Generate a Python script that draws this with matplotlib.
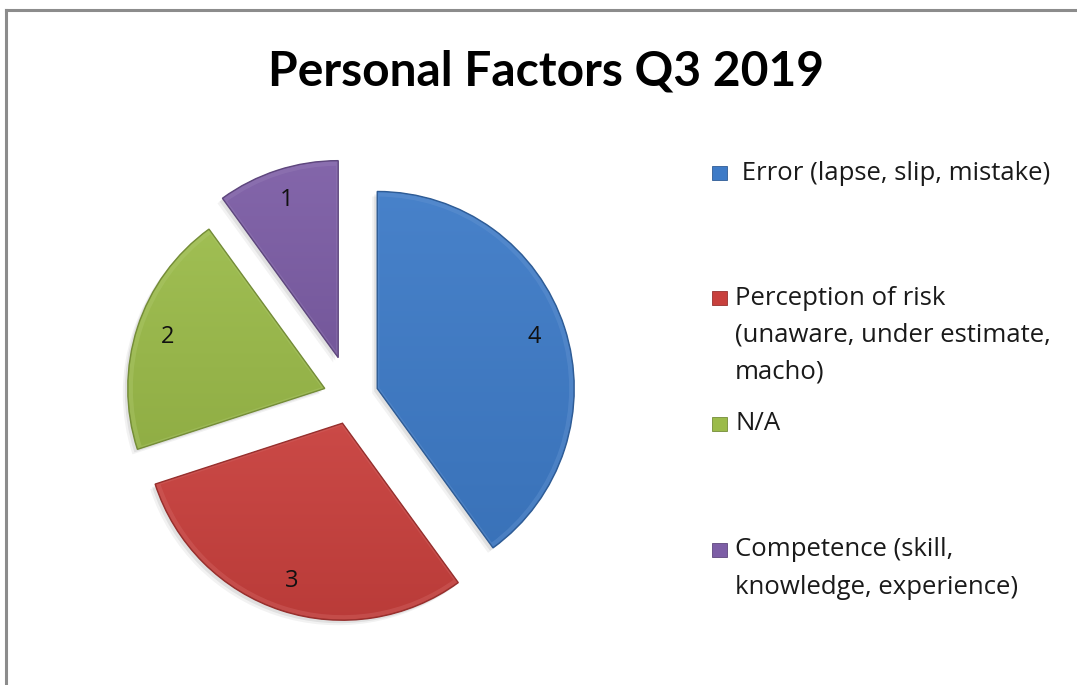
import matplotlib.pyplot as plt
import numpy as np
from matplotlib.colors import to_rgb
from matplotlib.lines import Line2D
from matplotlib.patches import Rectangle, Wedge

title = "Personal Factors Q3 2019"
categories = [
    " Error (lapse, slip, mistake)",
    "Perception of risk\n(unaware, under estimate,\nmacho)",
    "N/A",
    "Competence (skill,\nknowledge, experience)",
]
counts = [4, 3, 2, 1]
colors = ["#3E7BC7", "#C8403D", "#9BBB4A", "#7D5EA6"]
explode = [0.14, 0.14, 0.14, 0.21]

plt.rcParams["font.family"] = ["Open Sans", "DejaVu Sans"]

W, H = 1077, 685
R = 197.0  # pie radius in pixels
cx, cy = 351, 397  # pie centre, pixels from top-left

fig = plt.figure(figsize=(W / 100, H / 100), dpi=100, facecolor="white")
ax = fig.add_axes([0, 0, 1, 1])

# axes in units of the pie radius, origin at pie centre
x0, x1 = -cx / R, (W - cx) / R
y0, y1 = -(H - cy) / R, cy / R


def shade(c, f):
    r = np.array(to_rgb(c))
    if f > 0:
        return r + (1 - r) * f
    return r * (1 + f)


wedges, texts, autotexts = ax.pie(
    counts,
    colors=colors,
    explode=explode,
    startangle=90,
    counterclock=False,
    radius=1,
    autopct=lambda p: "%d" % round(p * sum(counts) / 100),
    pctdistance=0.84,
    textprops={"fontsize": 17, "color": "#111111"},
    wedgeprops={"linewidth": 0},
)

for w, c in zip(wedges, colors):
    # soft shadow
    for k, a in [(5, 0.05), (3, 0.07)]:
        sh = Wedge(
            (w.center[0] - k / R, w.center[1] - k / R),
            w.r, w.theta1, w.theta2,
            facecolor="black", alpha=a, linewidth=0, zorder=0.5,
        )
        ax.add_patch(sh)
    # gentle vertical gradient inside the wedge
    ext = w.get_path().get_extents()
    n = 64
    top, bot = shade(c, 0.05), shade(c, -0.07)
    grad = np.linspace(0, 1, n)[:, None, None] * (bot - top) + top
    im = ax.imshow(
        grad,
        extent=(ext.x0, ext.x1, ext.y0, ext.y1),
        origin="upper",
        aspect="auto",
        zorder=1.1,
        interpolation="bilinear",
    )
    im.set_clip_path(w)
    # bevel rim
    rim2 = Wedge(
        w.center, w.r - 3 / R, w.theta1, w.theta2,
        facecolor="none", edgecolor=shade(c, 0.2), linewidth=3, alpha=0.4, zorder=1.2,
    )
    rim2.set_clip_path(w)
    ax.add_patch(rim2)
    rim = Wedge(
        w.center, w.r, w.theta1, w.theta2,
        facecolor="none", edgecolor=shade(c, -0.25), linewidth=1.0, zorder=1.3,
    )
    ax.add_patch(rim)

for t in autotexts:
    t.set_zorder(3)

ax.set_xlim(x0, x1)
ax.set_ylim(y0, y1)
ax.set_aspect("equal")
ax.set_axis_off()

# title
fig.text(546 / W, 1 - 85 / H, title, ha="center", va="baseline",
         fontsize=34.5, fontweight="bold", color="black", family=["Lato", "DejaVu Sans"])

# legend drawn by hand to follow the uneven spacing of the original
entry_y = [173, 298, 424, 550]
line_step = 37
for lab, c, yy in zip(categories, colors, entry_y):
    fig.patches.append(Rectangle((712 / W, 1 - (yy + 7) / H), 15 / W, 14 / H,
                                 transform=fig.transFigure, facecolor=c,
                                 edgecolor=shade(c, -0.25), linewidth=0.6))
    for i, line in enumerate(lab.split("\n")):
        fig.text(735 / W, 1 - (yy + i * line_step) / H, line, ha="left", va="center",
                 fontsize=18.5, color="#1a1a1a")

# chart-area border (top and left edges visible)
fig.add_artist(Line2D([6 / W, 1], [1 - 10 / H, 1 - 10 / H], transform=fig.transFigure,
                      color="#8c8c8c", linewidth=2.2))
fig.add_artist(Line2D([6 / W, 6 / W], [0, 1 - 10 / H], transform=fig.transFigure,
                      color="#8c8c8c", linewidth=2.2))

fig.savefig("out.png", dpi=100, facecolor="white")
